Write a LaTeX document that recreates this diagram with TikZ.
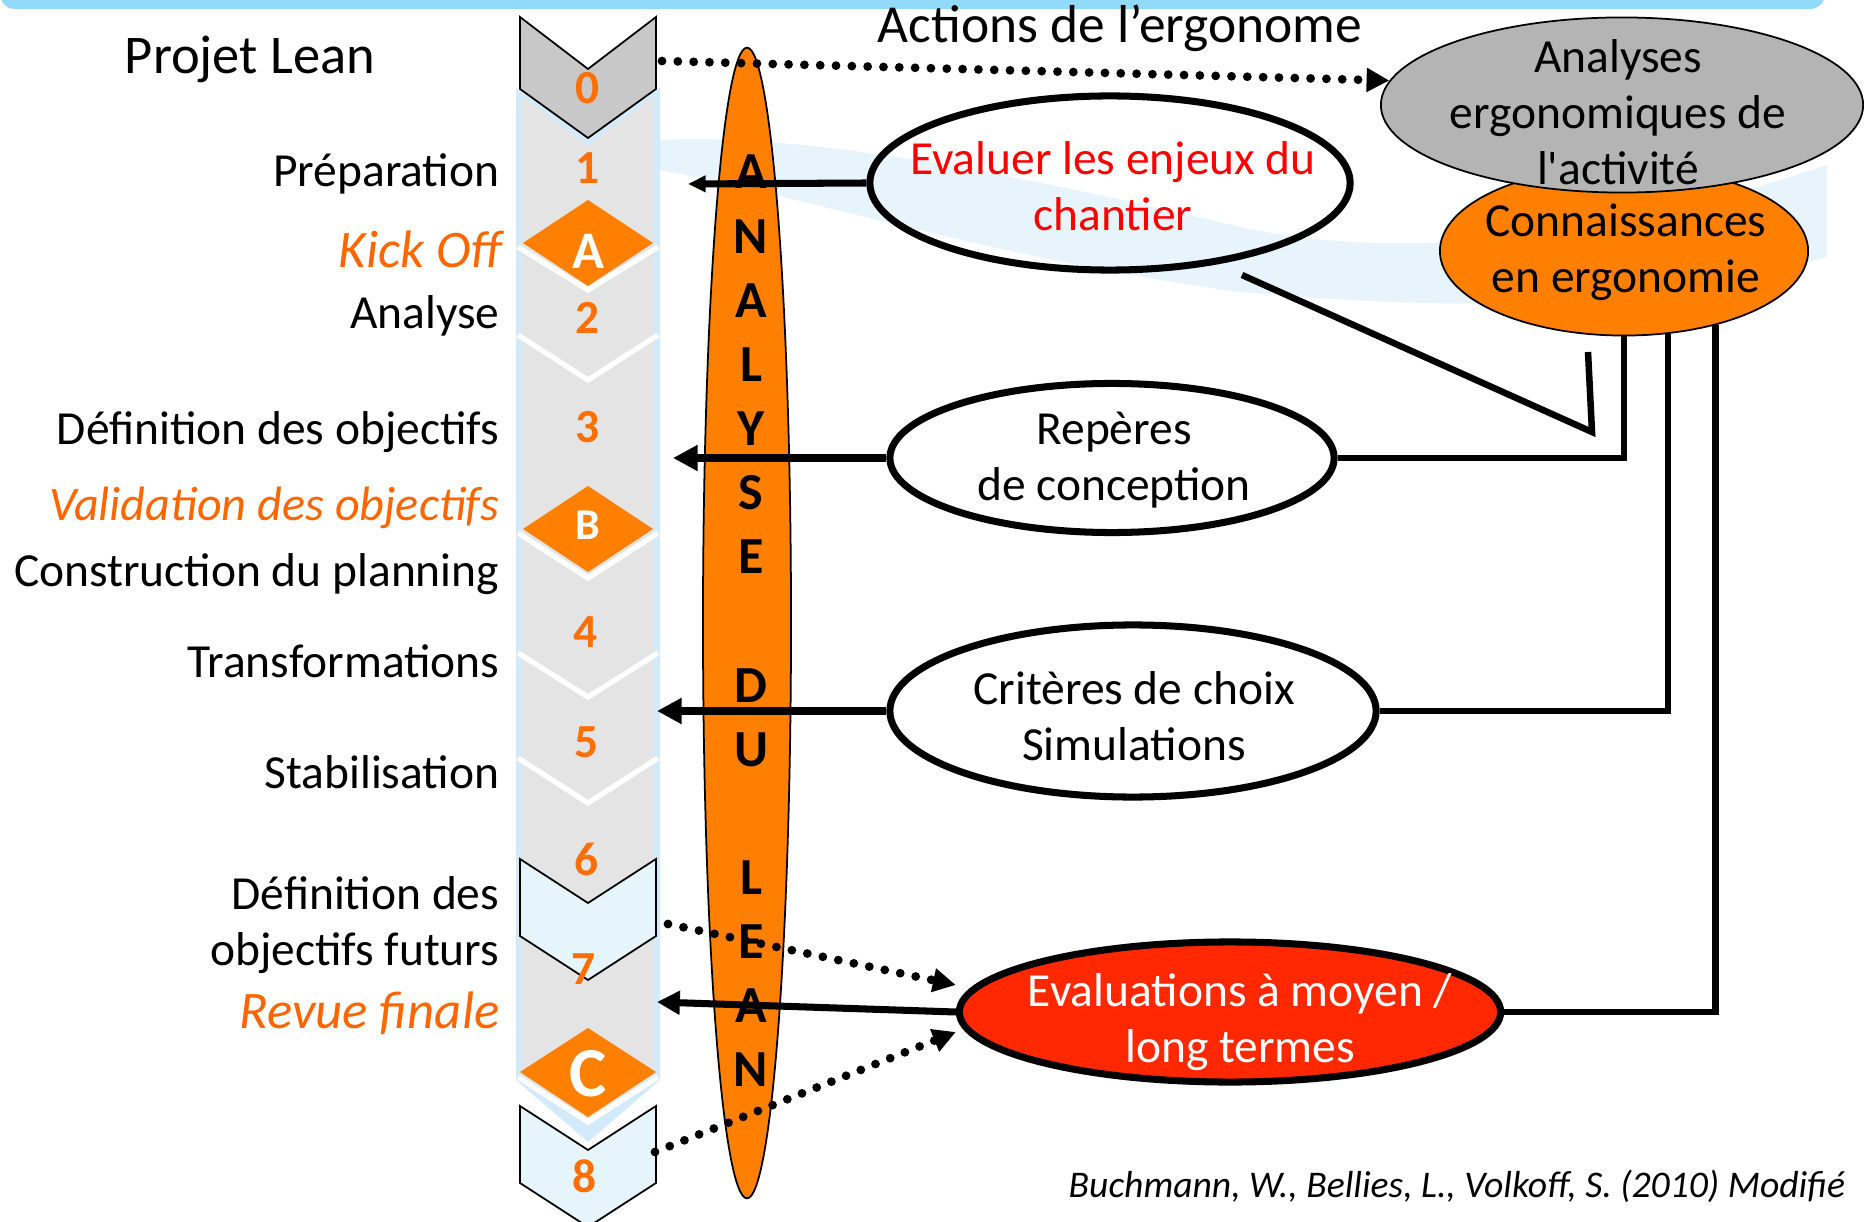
\documentclass[tikz,border=0pt]{standalone}
\usepackage{fontspec}
\setmainfont{Carlito}
\usetikzlibrary{arrows.meta,shapes.geometric}

\definecolor{barblue}{RGB}{146,218,250}
\definecolor{colblue}{RGB}{210,234,250}
\definecolor{colgrey}{RGB}{228,228,228}
\definecolor{chevgrey}{RGB}{200,200,200}
\definecolor{chevblue}{RGB}{230,245,252}
\definecolor{swoosh}{RGB}{232,244,252}
\definecolor{leanorange}{RGB}{255,128,0}
\definecolor{numorange}{RGB}{255,110,0}
\definecolor{txtorange}{RGB}{255,102,0}
\definecolor{evred}{RGB}{255,40,0}
\definecolor{anagrey}{RGB}{180,180,180}

\begin{document}
\begin{tikzpicture}[x=0.01cm, y=0.01cm,
    every node/.append style={inner sep=0pt},
    lbl/.style={anchor=base east, font=\fontsize{13.5}{15.9}\selectfont},
    olbl/.style={anchor=base east, text=txtorange, font=\fontsize{15}{18}\selectfont\itshape},
    num/.style={text=numorange, font=\fontsize{13.5}{15}\selectfont\bfseries},
    bubble/.style={ellipse, draw=black, line width=2pt},
    thinbubble/.style={ellipse, draw=black, line width=0.5pt},
    btxt/.style={align=center, font=\fontsize{13.5}{15.9}\selectfont},
    arr/.style={line width=2pt, -{Triangle[length=7pt,width=7pt]}},
    dotarr/.style={line width=2.5pt, line cap=round, dash pattern=on 0pt off 4.5pt, -{Triangle[length=6.5pt,width=6.5pt]}},
    conline/.style={line width=1.85pt},
    stripe/.style={white, line width=1.5pt}]
    \useasboundingbox (0,0) rectangle (1864,-1222);
    % background
    \fill [swoosh] (659,-140) .. controls (800,-133) and (1000,-170) .. (1240,-227)
        .. controls (1400,-262) and (1600,-240) .. (1827,-165) -- (1827,-257)
        .. controls (1600,-320) and (1400,-305) .. (1240,-292)
        .. controls (1000,-260) and (800,-195) .. (659,-170) -- cycle;
    \fill [barblue, rounded corners=1.5mm] (0,20) rectangle (1825,-9);
    % project column
    \fill [colblue] (516,-88) -- (588,-138) -- (660,-88) -- (660,-1080) -- (588,-1142) -- (516,-1080) -- cycle;
    \fill [colgrey] (522,-96) -- (588,-146) -- (653,-96) -- (653,-1074) -- (588,-1120) -- (522,-1074) -- cycle;
    \draw [stripe] (518,-247) -- (588,-290) -- (658,-247);
    \draw [stripe] (518,-335) -- (588,-380) -- (658,-335);
    \draw [stripe] (518,-533) -- (588,-578) -- (658,-533);
    \draw [stripe] (518,-653) -- (588,-697) -- (658,-653);
    \draw [stripe] (518,-758) -- (588,-803) -- (658,-758);
    \draw [stripe] (518,-1077) -- (588,-1122) -- (658,-1077);
    \fill [leanorange] (588,-200) -- (653,-243) -- (588,-286) -- (523,-243) -- cycle;
    \fill [leanorange] (588,-486) -- (653,-529) -- (588,-572) -- (523,-529) -- cycle;
    \fill [leanorange] (588,-1028) -- (656,-1072) -- (588,-1117) -- (520,-1072) -- cycle;
    \filldraw [fill=chevgrey, draw=black, line width=0.5pt] (520,-17) -- (588,-69) -- (656,-17) -- (656,-89) -- (588,-138) -- (520,-89) -- cycle;
    \filldraw [fill=chevblue, draw=black, line width=0.5pt] (520,-859) -- (588,-903) -- (656,-859) -- (656,-936) -- (588,-980) -- (520,-936) -- cycle;
    \filldraw [fill=chevblue, draw=black, line width=0.5pt] (520,-1106) -- (588,-1150) -- (656,-1106) -- (656,-1183) -- (588,-1227) -- (520,-1183) -- cycle;
    \node [num] (n0) at (588,-88) {0};
    \node [num] (n1) at (588,-168) {1};
    \node [num] (n2) at (588,-318) {2};
    \node [num] (n3) at (588,-427) {3};
    \node [num] (n4) at (586,-632) {4};
    \node [num] (n5) at (587,-742) {5};
    \node [num] (n6) at (587,-859) {6};
    \node [num] (n7) at (584,-969) {7};
    \node [num] (n8) at (585,-1176) {8};
    \node [white, font=\fontsize{15}{16}\selectfont\bfseries] (ja) at (588,-251) {A};
    \node [white, font=\fontsize{12.5}{14}\selectfont\bfseries] (jb) at (588,-525) {B};
    \node [white, font=\fontsize{20}{22}\selectfont\bfseries] (jc) at (588,-1074) {C};
    % phase labels
    \node [anchor=base, font=\fontsize{15.5}{18}\selectfont] (projet) at (250,-74) {Projet Lean};
    \node [lbl] (prep) at (500,-187) {Préparation};
    \node [olbl] (kick) at (502,-268) {Kick Off};
    \node [lbl] (analyse) at (500,-329) {Analyse};
    \node [lbl] (defobj) at (500,-445) {Définition des objectifs};
    \node [olbl, font=\fontsize{13.7}{16}\selectfont\itshape] (valobj) at (500,-521) {Validation des objectifs};
    \node [lbl] (constr) at (500,-587) {Construction du planning};
    \node [lbl] (transf) at (500,-677) {Transformations};
    \node [lbl] (stab) at (500,-788) {Stabilisation};
    \node [lbl, anchor=east, align=right] (deffut) at (500,-925) {Définition des\\objectifs futurs};
    \node [olbl] (revue) at (500,-1028) {Revue finale};
    % analyse du lean
    \node [thinbubble, fill=leanorange, minimum width=0.88cm, minimum height=11.5cm] (lean) at (747,-623) {};
    \node [align=center, font=\fontsize{14.8}{18.24}\selectfont\bfseries] (leantxt) at (751,-621)
        {A\\N\\A\\L\\Y\\S\\E\\~\\D\\U\\~\\L\\E\\A\\N};
    % ergonome
    \node [anchor=base, font=\fontsize{15.2}{18}\selectfont] (actions) at (1120,-43) {Actions de l'ergonome};
    \node [thinbubble, fill=leanorange, minimum width=3.68cm, minimum height=1.69cm] (conn) at (1624,-251) {};
    \node [btxt] (conntxt) at (1626,-252) {Connaissances\\en ergonomie};
    \node [thinbubble, fill=anagrey, minimum width=4.82cm, minimum height=1.75cm] (ana) at (1622,-105) {};
    \node [btxt] (anatxt) at (1618,-112) {Analyses\\ergonomiques de\\l\textquotesingle activité};
    \node [bubble, minimum width=4.80cm, minimum height=1.74cm] (enj) at (1110,-183) {};
    \node [btxt, text=red] (enjtxt) at (1113,-186) {Evaluer les enjeux du\\chantier};
    \node [bubble, minimum width=4.44cm, minimum height=1.49cm] (rep) at (1112,-458) {};
    \node [btxt] (reptxt) at (1114,-460) {Repères\\de conception};
    \node [bubble, minimum width=4.86cm, minimum height=1.72cm] (crit) at (1133,-711) {};
    \node [btxt] (crittxt) at (1134,-716) {Critères de choix\\Simulations};
    \node [bubble, fill=evred, minimum width=5.41cm, minimum height=1.40cm] (ev) at (1230,-1012) {};
    \node [btxt, text=white] (evtxt) at (1240,-1022) {Evaluations à moyen /\\long termes};
    \node [anchor=base east, font=\fontsize{10.7}{12}\selectfont\itshape] (cite) at (1846,-1197) {Buchmann, W., Bellies, L., Volkoff, S. (2010) Modifié};
    % connectors
    \coordinate (t1) at (688,-184);
    \coordinate (t2) at (673,-458);
    \coordinate (t3) at (657,-711);
    \coordinate (t4) at (657,-1002);
    \coordinate (c0) at (662,-61);
    \coordinate (c7) at (668,-924);
    \coordinate (c8) at (655,-1152);
    \coordinate (v1) at (1242,-275);
    \coordinate (v2) at (1592,-432);
    \coordinate (v3) at (1588,-352);
    \draw [arr, -{Triangle[length=5pt,width=4.5pt]}] (enj.west) -- (t1);
    \draw [arr] (rep.west) -- (t2);
    \draw [arr] (crit.west) -- (t3);
    \draw [arr, -{Triangle[length=6.5pt,width=6.5pt]}] (ev.west) -- (t4);
    \draw [dotarr] (c0) -- (ana.174);
    \draw [dotarr] (c7) -- ([yshift=0.27cm]ev.west);
    \draw [dotarr] (c8) -- ([yshift=-0.2cm]ev.west);
    \draw [conline] (v1) -- (v2) -- (v3);
    \draw [conline] (rep.east) -| (conn.south);
    \draw [conline] (crit.east) -| (conn.-62);
    \draw [conline] (ev.east) -| (conn.-39);
\end{tikzpicture}
\end{document}
